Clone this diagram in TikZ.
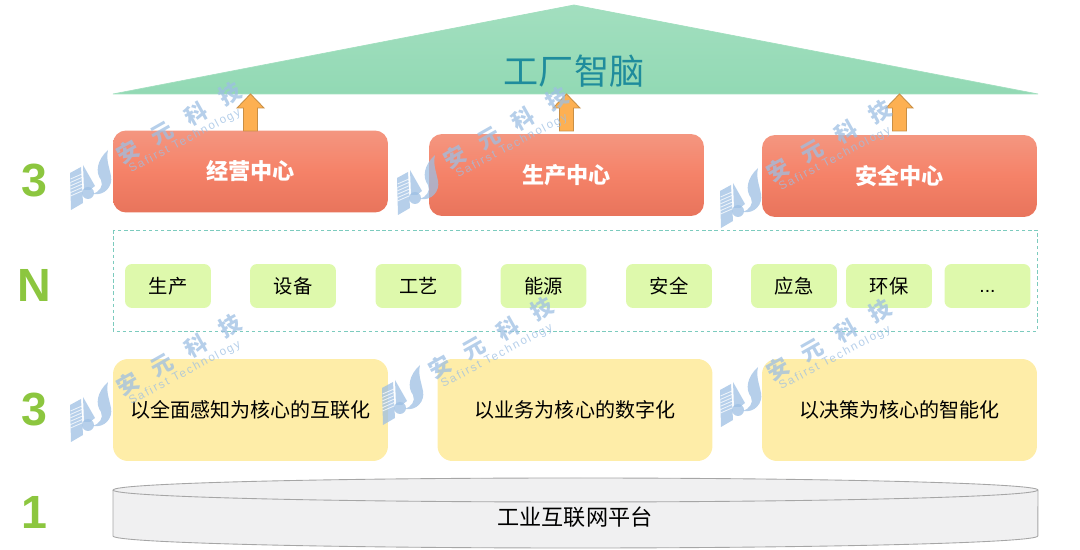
\documentclass[tikz,border=0pt]{standalone}
\usepackage{fontspec}
\setmainfont{Noto Sans CJK SC}
\newfontfamily\numfont{Liberation Sans}
\newfontfamily\markfont[LetterSpace=16]{Liberation Sans}
\definecolor{wmblue}{HTML}{9DBFE3}
\definecolor{numgreen}{HTML}{8CC63F}
\definecolor{roofgreen}{HTML}{92D9B4}
\definecolor{titleteal}{HTML}{1F8C9C}
\definecolor{redtop}{HTML}{F49680}
\definecolor{redmid}{HTML}{F58268}
\definecolor{redbot}{HTML}{E8745C}
\definecolor{chipgreen}{HTML}{DEF9AC}
\definecolor{planyellow}{HTML}{FEEDA8}
\definecolor{diskgray}{HTML}{F0F0F1}
\definecolor{dashteal}{HTML}{7CCBBE}
\definecolor{arrowfill}{HTML}{FDB052}
\definecolor{arrowline}{HTML}{C98F45}
\tikzset{
  centerbox/.style={rounded corners=0.26cm,minimum width=5.5cm,minimum height=1.64cm,inner sep=0pt,
    top color=redtop,bottom color=redbot,middle color=redmid,text=white,font=\fontsize{12.6}{14}\selectfont\bfseries},
  chipbox/.style={rounded corners=0.14cm,fill=chipgreen,minimum width=1.72cm,minimum height=0.88cm,inner sep=0pt,
    font=\fontsize{11}{13}\selectfont},
  planbox/.style={rounded corners=0.3cm,fill=planyellow,minimum width=5.5cm,minimum height=2.04cm,inner sep=0pt,
    font=\fontsize{11.4}{13}\selectfont},
  countlabel/.style={text=numgreen,font=\numfont\fontsize{26.5}{30}\selectfont\bfseries},
  uparrow/.style={draw=arrowline,line width=0.5pt,fill=arrowfill},
}
% block arrow whose tip touches the eave above a box
\newcommand{\blockup}[1]{%
  \draw[uparrow,shift={(#1.north |- eave)}] (0,0) -- (13.5,14) -- (7,14) -- (7,37) -- (-7,37) -- (-7,14) -- (-13.5,14) -- cycle;}
\newcommand{\wmark}[2]{%
  \begin{scope}[shift={(#1,#2)},opacity=0.75]
    \fill[wmblue] (0,23) -- (11,17) -- (13,53) -- (1,60) -- cycle;
    \foreach \k in {0,1,2,3,4,5}
      \draw[white,line width=0.5pt] (0.5,29+3.4*\k) -- (12,24+3.4*\k);
    \fill[wmblue] (13,15) -- (25,36) -- (20,40) -- (14,40) -- cycle;
    \fill[wmblue] (18,43) circle (0.12cm);
    \fill[wmblue] (38,0) .. controls (27,10) and (25,22) .. (31,30) .. controls (34,36) and (29,42) .. (23,44)
      .. controls (35,46) and (43,36) .. (41,26) .. controls (39,16) and (36,10) .. (38,0) -- cycle;
    \node[rotate=29.5,text=wmblue,inner sep=0pt,font=\fontsize{12.5}{14}\selectfont\bfseries] at (109,-27) {安\hspace{0.77em}元\hspace{0.77em}科\hspace{0.77em}技};
    \node[rotate=28,text=wmblue,inner sep=0pt,font=\markfont\fontsize{6.6}{8}\selectfont] at (115,-9) {Safirst Technology};
  \end{scope}}
\begin{document}
\begin{tikzpicture}[x=0.02cm,y=-0.02cm]
\useasboundingbox (0,0) rectangle (1080,550);
% roof
\coordinate (eave) at (113,94);
\path[draw=roofgreen!85!white,top color=roofgreen!85!white,bottom color=roofgreen] (eave) -- (574,5) -- (1038,94) -- cycle;
\node[text=titleteal,font=\fontsize{20}{22}\selectfont] (title) at (574,71) {工厂智脑};
% counts
\node[countlabel] (countA) at (34,181) {3};
\node[countlabel] (countB) at (34,285) {N};
\node[countlabel] (countC) at (34,410) {3};
\node[countlabel] (countD) at (34,512) {1};
% centers
\node[centerbox] (jingying) at (250.5,171.5) {经营中心};
\node[centerbox] (shengchan) at (566.5,175) {生产中心};
\node[centerbox] (anquan) at (899.5,176) {安全中心};
\blockup{jingying}
\blockup{shengchan}
\blockup{anquan}
% domains
\draw[draw=dashteal,line width=0.4pt,dash pattern=on 2pt off 1.5pt] (113,230) rectangle (1037,331);
\node[chipbox] (chipA) at (168,286) {生产};
\node[chipbox] (chipB) at (293,286) {设备};
\node[chipbox] (chipC) at (418.5,286) {工艺};
\node[chipbox] (chipD) at (543.5,286) {能源};
\node[chipbox] (chipE) at (669,286) {安全};
\node[chipbox] (chipF) at (794,286) {应急};
\node[chipbox] (chipG) at (889,286) {环保};
\node[chipbox] (chipH) at (987.5,286) {\numfont\vphantom{A}...};
% plans
\node[planbox] (planA) at (250.5,410) {以全面感知为核心的互联化};
\node[planbox] (planB) at (575,410) {以业务为核心的数字化};
\node[planbox] (planC) at (899.5,410) {以决策为核心的智能化};
% platform
\draw[draw=gray!70,fill=diskgray,line width=0.5pt] (113,490) -- (113,536) arc[start angle=180,end angle=360,x radius=9.25cm,y radius=0.24cm] -- (1038,490)
  arc[start angle=0,end angle=180,x radius=9.25cm,y radius=0.24cm] -- cycle;
\draw[draw=gray!70,line width=0.5pt] (113,490) arc[start angle=180,end angle=360,x radius=9.25cm,y radius=0.24cm];
\node[font=\fontsize{12.6}{14}\selectfont] (platform) at (575,517) {工业互联网平台};
% watermarks
\wmark{70}{150}
\wmark{397}{155}
\wmark{720}{168}
\wmark{70}{382}
\wmark{382}{365}
\wmark{720}{367}
\end{tikzpicture}
\end{document}
